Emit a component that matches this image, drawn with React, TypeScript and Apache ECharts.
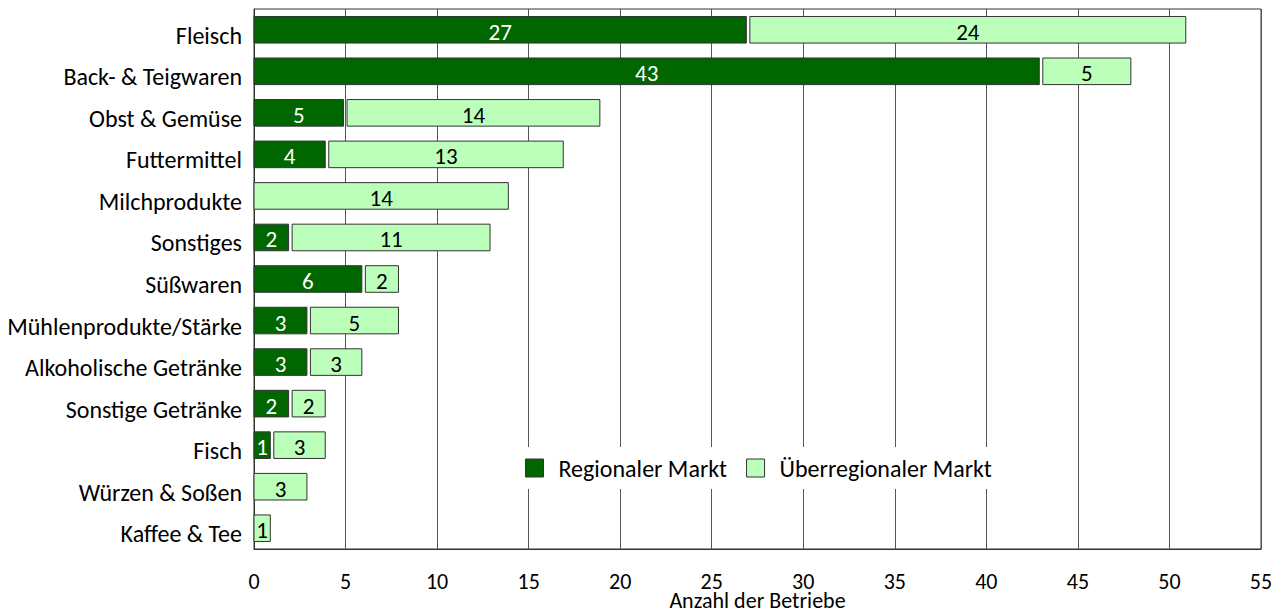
import React, { useEffect, useRef } from "react";
import * as echarts from "echarts";

const categories = [
  "Fleisch",
  "Back- & Teigwaren",
  "Obst & Gemüse",
  "Futtermittel",
  "Milchprodukte",
  "Sonstiges",
  "Süßwaren",
  "Mühlenprodukte/Stärke",
  "Alkoholische Getränke",
  "Sonstige Getränke",
  "Fisch",
  "Würzen & Soßen",
  "Kaffee & Tee",
];
const regional = [27, 43, 5, 4, 0, 2, 6, 3, 3, 2, 1, 0, 0];
const ueberregional = [24, 5, 14, 13, 14, 11, 2, 5, 3, 2, 3, 3, 1];
const xTicks = [0, 5, 10, 15, 20, 25, 30, 35, 40, 45, 50, 55];
const seriesNames = ["Regionaler Markt", "Überregionaler Markt"];
const axisName = "Anzahl der Betriebe";

const FONT = "Carlito, Lato, sans-serif";
const DARK = "#006600";
const LIGHT = "#bbffbb";
const EDGE = "#333333";

function buildData(values: number[], offsets: number[] | null) {
  const out: any[] = [];
  values.forEach((v, i) => {
    if (v > 0) {
      const s = offsets ? offsets[i] : 0;
      out.push([i, s, s + v, v]);
    }
  });
  return out;
}

function makeRender(fill: string, textColor: string) {
  return (params: any, api: any) => {
    const cat = api.value(0);
    const start = api.value(1);
    const end = api.value(2);
    const val = api.value(3);
    const p0 = api.coord([start, cat]);
    const p1 = api.coord([end, cat]);
    const band = api.size([0, 1])[1];
    const h = band * 0.64;
    const x0 = p0[0] + (start > 0 ? 1.5 : 0);
    const x1 = p1[0] - 2;
    const y = p0[1] - h / 2;
    return {
      type: "group",
      children: [
        {
          type: "rect",
          shape: { x: x0, y, width: Math.max(x1 - x0, 1), height: h },
          style: { fill, stroke: EDGE, lineWidth: 1 },
        },
        {
          type: "text",
          x: (x0 + x1) / 2,
          y: p0[1] + 2,
          style: {
            text: String(val),
            fill: textColor,
            fontSize: 23,
            fontFamily: FONT,
            textAlign: "center",
            textVerticalAlign: "middle",
          },
        },
      ],
    };
  };
}

export default function App() {
  const ref = useRef<HTMLDivElement>(null);
  useEffect(() => {
    if (!ref.current) return;
    const chart = echarts.init(ref.current, undefined, { renderer: "svg" });
    chart.setOption({
      animation: false,
      backgroundColor: "#ffffff",
      textStyle: { fontFamily: FONT },
      grid: {
        left: 254,
        right: 25,
        top: 9,
        bottom: 63,
        containLabel: false,
        outerBoundsMode: "none",
        show: true,
        borderColor: EDGE,
        borderWidth: 1,
        backgroundColor: "transparent",
      },
      legend: {
        left: 513,
        top: 447,
        backgroundColor: "#ffffff",
        padding: [9, 12, 9, 12],
        itemWidth: 18,
        itemHeight: 18,
        itemGap: 19,
        textStyle: {
          fontSize: 24,
          fontFamily: FONT,
          color: "#000",
          padding: [4, 0, 0, 10],
        },
        data: [
          { name: seriesNames[0], icon: "rect", itemStyle: { color: DARK, borderColor: EDGE, borderWidth: 1 } },
          { name: seriesNames[1], icon: "rect", itemStyle: { color: LIGHT, borderColor: EDGE, borderWidth: 1 } },
        ],
      },
      xAxis: {
        type: "value",
        min: xTicks[0],
        max: xTicks[xTicks.length - 1],
        interval: 5,
        name: axisName,
        nameLocation: "middle",
        nameGap: 51,
        nameMoveOverlap: false,
        nameTextStyle: {
          fontSize: 22,
          fontFamily: FONT,
          color: "#000",
          verticalAlign: "middle",
        },
        axisLine: { show: true, lineStyle: { color: EDGE, width: 1 } },
        axisTick: { show: false },
        axisLabel: {
          fontSize: 22,
          fontFamily: FONT,
          color: "#000",
          margin: 21,
        },
        splitLine: { show: true, lineStyle: { color: "#555555", width: 1 } },
      },
      yAxis: {
        type: "category",
        data: categories,
        inverse: true,
        axisLine: { show: true, lineStyle: { color: EDGE, width: 1 } },
        axisTick: { show: false },
        axisLabel: {
          color: "#000",
          margin: 12,
          formatter: (v: string) => "{c|" + v + "}",
          rich: {
            c: {
              fontSize: 24,
              fontFamily: FONT,
              color: "#000",
              padding: [11, 0, 0, 0],
            },
          },
        },
        splitLine: { show: false },
      },
      series: [
        {
          name: seriesNames[0],
          type: "custom",
          renderItem: makeRender(DARK, "#ffffff"),
          encode: { x: [1, 2], y: 0 },
          itemStyle: { color: DARK },
          data: buildData(regional, null),
          z: 3,
        },
        {
          name: seriesNames[1],
          type: "custom",
          renderItem: makeRender(LIGHT, "#000000"),
          encode: { x: [1, 2], y: 0 },
          itemStyle: { color: LIGHT },
          data: buildData(ueberregional, regional),
          z: 3,
        },
      ],
    });
    return () => chart.dispose();
  }, []);
  return (
    <div
      ref={ref}
      style={{ position: "fixed", left: 0, top: 0, width: 1286, height: 612 }}
    />
  );
}
